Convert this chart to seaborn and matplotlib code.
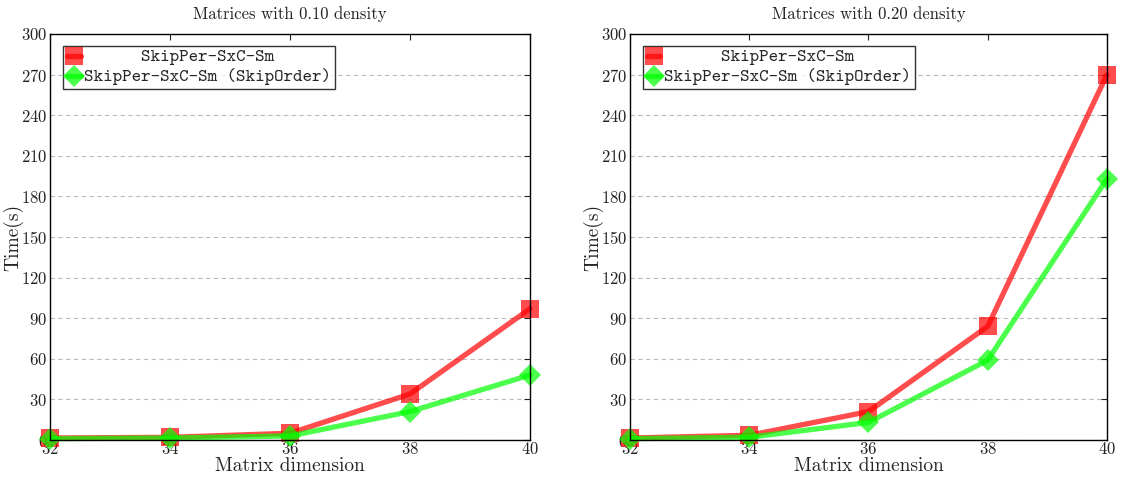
import matplotlib
matplotlib.use("Agg")
import matplotlib.pyplot as plt
import seaborn as sns
import pandas as pd

# Matrix dimensions and timings (seconds)
dims = [32, 34, 36, 38, 40]
d10_skipper = [1.5, 2.0, 5.0, 34.0, 97.0]
d10_skiporder = [1.0, 1.5, 3.0, 21.0, 48.0]
d20_skipper = [1.5, 3.5, 21.0, 84.0, 270.0]
d20_skiporder = [1.0, 2.0, 13.0, 59.0, 193.0]

titles = ["Matrices with 0.10 density", "Matrices with 0.20 density"]
lab_a = "SkipPer-SxC-Sm"
lab_b = "SkipPer-SxC-Sm (SkipOrder)"
yticks = list(range(0, 301, 30))

sns.set_theme(style="white")
plt.rcParams["font.family"] = ["cmr10"]
plt.rcParams["axes.formatter.use_mathtext"] = True
plt.rcParams["mathtext.fontset"] = "cm"

fig = plt.figure(figsize=(11.21, 4.8), dpi=100)
axes = [fig.add_axes([0.0446, 0.0833, 0.4282, 0.8459]),
        fig.add_axes([0.5620, 0.0833, 0.4255, 0.8459])]

series = [(d10_skipper, d10_skiporder), (d20_skipper, d20_skiporder)]
pad_a = " " * ((len(lab_b) - len(lab_a)) // 2) + lab_a

for ax, title, (sa, sb) in zip(axes, titles, series):
    df = pd.DataFrame({
        "dim": dims * 2,
        "time": sa + sb,
        "method": [pad_a] * len(dims) + [lab_b] * len(dims),
    })
    sns.lineplot(data=df, x="dim", y="time", hue="method", style="method",
                 palette={pad_a: "#ff0000", lab_b: "#00ff00"},
                 markers={pad_a: "s", lab_b: "D"}, dashes=False,
                 linewidth=3.8, markersize=13, markeredgewidth=0,
                 alpha=0.7, ax=ax, clip_on=False)
    for ln in ax.lines:
        if ln.get_marker() == "D":
            ln.set_markersize(11)
    ax.set_xlim(32, 40)
    ax.set_ylim(0, 300)
    ax.set_xticks(dims)
    ax.set_yticks(yticks)
    ax.set_title(title, fontsize=12, color="#222222", pad=11)
    ax.set_xlabel("Matrix dimension", fontsize=14, labelpad=0)
    ax.set_ylabel("Time(s)", fontsize=14)
    ax.yaxis.set_label_coords(-0.056, 0.5)
    ax.yaxis.grid(True, linestyle=(0, (4, 3)), color="#bbbbbb", linewidth=0.8)
    ax.tick_params(direction="in", length=4, width=0.8, top=True, right=True,
                   labelsize=12, pad=2, colors="#222222")
    ax.tick_params(axis="x", pad=1)
    for sp in ax.spines.values():
        sp.set_color("black")
        sp.set_linewidth(1.0)
    leg = ax.legend(loc="upper left", bbox_to_anchor=(0.027, 0.97),
                    frameon=True, fancybox=False, handlelength=0.9,
                    handletextpad=0.25, borderpad=0.25, labelspacing=0.2,
                    borderaxespad=0.0)
    leg.get_frame().set_edgecolor("black")
    leg.get_frame().set_linewidth(1.0)
    for t in leg.get_texts():
        t.set_fontfamily("cmtt10")
        t.set_fontsize(13)

fig.savefig("out.png", dpi=100)
